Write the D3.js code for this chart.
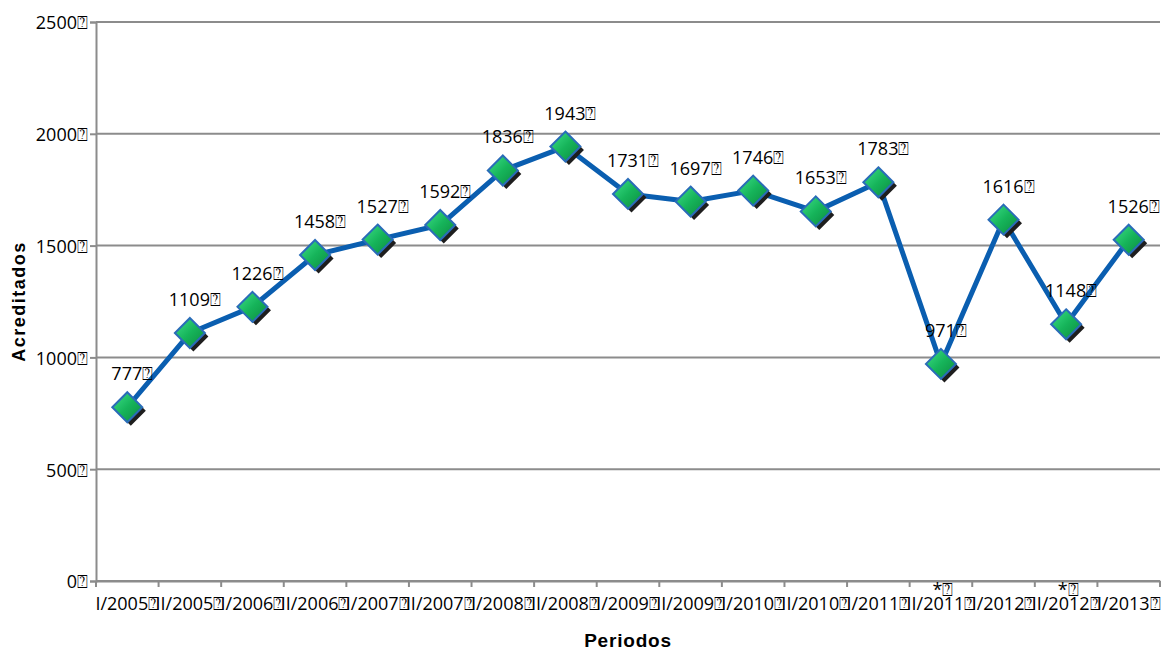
<!DOCTYPE html>
<html>
<head>
<meta charset="utf-8">
<script src="https://cdn.jsdelivr.net/npm/d3@7"></script>
<style>
  body { margin: 0; background: #fff; }
  svg { font-family: "Open Sans", "DejaVu Sans", sans-serif; }
</style>
</head>
<body>
<svg id="chart" width="1166" height="650"></svg>
<script>
// periodos y acreditados
const periods = ["I/2005", "II/2005", "I/2006", "II/2006", "I/2007", "II/2007", "I/2008", "II/2008",
  "I/2009", "II/2009", "I/2010", "II/2010", "I/2011", "II/2011", "I/2012", "II/2012", "I/2013"];
const acreditados = [777, 1109, 1226, 1458, 1527, 1592, 1836, 1943, 1731, 1697, 1746, 1653, 1783, 971, 1616, 1148, 1526];
const starred = ["II/2011", "II/2012"]; // periodos marcados con *
const yTicks = [0, 500, 1000, 1500, 2000, 2500];
const box = "\u2370"; // caracter sin glifo en el original

const margin = { top: 22, right: 6, bottom: 69, left: 96 };
const W = 1166, H = 650;
const width = W - margin.left - margin.right;
const height = H - margin.top - margin.bottom;
const fs = 18;

const svg = d3.select("#chart");
const defs = svg.append("defs");
const grad = defs.append("linearGradient").attr("id", "gem")
  .attr("x1", "0").attr("y1", "0").attr("x2", "1").attr("y2", "1");
grad.append("stop").attr("offset", "0%").attr("stop-color", "#3fe08a");
grad.append("stop").attr("offset", "50%").attr("stop-color", "#16b45a");
grad.append("stop").attr("offset", "100%").attr("stop-color", "#0c8a3e");

const g = svg.append("g").attr("transform", `translate(${margin.left},${margin.top})`);

const x = d3.scaleBand().domain(periods).range([0, width]);
const y = d3.scaleLinear().domain([0, 2500]).range([height, 0]);

// grid
g.selectAll(".grid").data(yTicks).enter().append("line")
  .attr("x1", 0).attr("x2", width)
  .attr("y1", d => y(d)).attr("y2", d => y(d))
  .attr("stroke", "#8c8c8c").attr("stroke-width", 2);

// eje y
const yAxis = g.append("g").call(d3.axisLeft(y).tickValues(yTicks).tickSize(6).tickPadding(2)
  .tickFormat(d => d + box));
yAxis.select(".domain").attr("stroke", "#8c8c8c").attr("stroke-width", 2);
yAxis.selectAll(".tick line").attr("stroke", "#8c8c8c").attr("stroke-width", 2);
yAxis.selectAll("text").attr("font-size", fs).attr("fill", "#000").attr("dy", "0.38em")
  .attr("font-family", "Open Sans, sans-serif");

// eje x
const xAxis = g.append("g").attr("transform", `translate(0,${height})`)
  .call(d3.axisBottom(x).tickSize(0).tickFormat(d => d + box));
xAxis.select(".domain").attr("stroke", "#8c8c8c").attr("stroke-width", 2);
xAxis.selectAll("text").attr("font-size", fs).attr("fill", "#000")
  .attr("y", 29).attr("dy", 0).attr("font-family", "Open Sans, sans-serif");
// marcas entre categorias
const edges = periods.map(p => x(p)).concat([width]);
g.selectAll(".xtick").data(edges).enter().append("line")
  .attr("x1", d => d).attr("x2", d => d)
  .attr("y1", height).attr("y2", height + 6)
  .attr("stroke", "#8c8c8c").attr("stroke-width", 2);

// asteriscos
g.selectAll(".star").data(starred).enter().append("text")
  .attr("x", d => x(d) + x.bandwidth() / 2 + 2)
  .attr("y", height + 15)
  .attr("text-anchor", "middle").attr("font-size", fs)
  .text("*" + box);

// linea
const cx = d => x(d) + x.bandwidth() / 2;
const line = d3.line().x((d, i) => cx(periods[i])).y(d => y(d));
g.append("path").datum(acreditados)
  .attr("d", line).attr("fill", "none")
  .attr("stroke", "#0a5eb0").attr("stroke-width", 5).attr("stroke-linejoin", "round");

// marcadores
const r = 15;
const diamond = `M0,${-r}L${r},0L0,${r}L${-r},0Z`;
const pts = g.selectAll(".pt").data(acreditados).enter().append("g")
  .attr("transform", (d, i) => `translate(${cx(periods[i])},${y(d)})`);
pts.append("path").attr("d", diamond).attr("transform", "translate(3.5,3.5)").attr("fill", "#1e1e1e");
pts.append("path").attr("d", diamond).attr("fill", "url(#gem)")
  .attr("stroke", "#2a6cb8").attr("stroke-width", 2);

// etiquetas de datos
g.selectAll(".lbl").data(acreditados).enter().append("text")
  .attr("x", (d, i) => cx(periods[i]) + 5)
  .attr("y", d => y(d) - 27)
  .attr("text-anchor", "middle").attr("font-size", fs)
  .text(d => d + box);

// titulos
svg.append("text")
  .attr("transform", `translate(25,${margin.top + height / 2}) rotate(-90)`)
  .attr("text-anchor", "middle").attr("font-weight", "bold").attr("font-size", 18)
  .attr("letter-spacing", 1.5)
  .attr("font-family", "Liberation Sans, Arial, sans-serif")
  .text("Acreditados");
svg.append("text")
  .attr("x", 628).attr("y", 647)
  .attr("text-anchor", "middle").attr("font-weight", "bold").attr("font-size", 19)
  .attr("letter-spacing", 0.8)
  .attr("font-family", "Liberation Sans, Arial, sans-serif")
  .text("Periodos");
</script>
</body>
</html>
